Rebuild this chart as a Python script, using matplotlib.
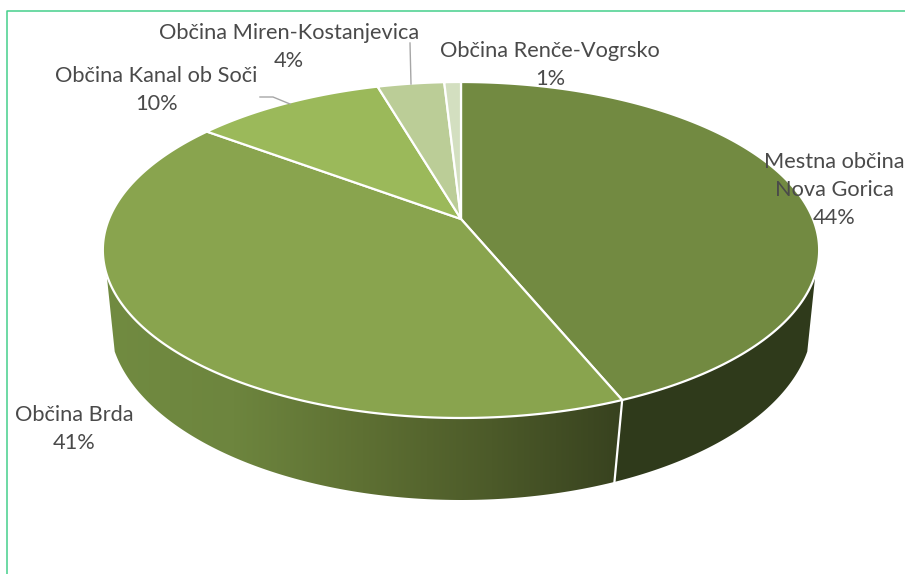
#!/usr/bin/env python3
import numpy as np
import matplotlib
matplotlib.use('Agg')
import matplotlib.pyplot as plt
from matplotlib.patches import Polygon

categories = ['Mestna občina\nNova Gorica', 'Občina Brda', 'Občina Kanal ob Soči',
              'Občina Miren-Kostanjevica', 'Občina Renče-Vogrsko']
shares = [43.8, 41.4, 10.3, 3.6, 0.9]
colors = ['#728a41', '#89a44e', '#9bb95a', '#bbcd97', '#d3dfc0']
label_pos = [(834, 190), (74, 429), (156, 90), (289, 47), (550, 65)]

WALL_START, WALL_END = 108.7, 251.3  # clockwise degrees from 12 o'clock


def top_disc(deg, r=1.0):
  """Perspective projection of the upper pie face to pixels."""
  a = np.radians(deg)
  x, y = r * np.sin(a), r * np.cos(a)
  d = 1 + 0.1845 * y
  return 461 + 352 * x / d, (219 - 121.87 * y) / d


def bottom_disc(deg):
  a = np.radians(deg)
  x, y = np.sin(a), np.cos(a)
  d = 1 + 0.15 * y
  return 461 + 348 * x / d, (292 - 133 * y) / d


def wall_outline(start, end):
  t = np.linspace(start, end, 150)
  tx, ty = top_disc(t)
  bx, by = bottom_disc(t[::-1])
  return np.column_stack([np.r_[tx, bx], np.r_[ty, by]])


fig = plt.figure(figsize=(9.05, 5.74), dpi=100)
ax = fig.add_axes([0, 0, 1, 1])
ax.set_xlim(0, 905)
ax.set_ylim(574, 0)
ax.axis('off')

edges = np.r_[0, np.cumsum(shares)] * 360 / sum(shares)

# side walls, only the two big slices are seen from the front
wall_cut = edges[1]
ax.add_patch(Polygon(wall_outline(WALL_START, wall_cut), closed=True,
  facecolor='#2f3a1b', edgecolor='none', zorder=2))
cmap = matplotlib.colors.LinearSegmentedColormap.from_list(
  'wall', ['#718b41', '#6d853e', '#5e7033', '#4c5a29', '#38421f'])
grad = ax.imshow(np.linspace(0, 1, 256).reshape(1, -1), cmap=cmap, aspect='auto',
  extent=(105, 620, 510, 250), zorder=2)
clip = Polygon(wall_outline(wall_cut, WALL_END), closed=True, transform=ax.transData,
  facecolor='none', edgecolor='none')
ax.add_patch(clip)
grad.set_clip_path(clip)
ax.set_xlim(0, 905)
ax.set_ylim(574, 0)

# seam on the wall
sx = [top_disc(wall_cut)[0], bottom_disc(wall_cut)[0]]
sy = [top_disc(wall_cut)[1], bottom_disc(wall_cut)[1]]
ax.plot(sx, sy, color='white', lw=1.6, zorder=3)

# top face
for start, end, color in zip(edges[:-1], edges[1:], colors):
  t = np.linspace(start, end, 200)
  px, py = top_disc(t)
  pts = np.column_stack([np.r_[461, px], np.r_[219, py]])
  ax.add_patch(Polygon(pts, closed=True, facecolor=color, edgecolor='white',
    lw=1.6, joinstyle='round', zorder=4))

# leader lines
ax.plot([410, 411], [43, 84], color='#a6a6a6', lw=1, zorder=5)
ax.plot([260, 273, 290], [97, 97, 104], color='#a6a6a6', lw=1, zorder=5)

for name, share, (lx, ly) in zip(categories, shares, label_pos):
  ax.text(lx, ly, '{}\n{:.0f}%'.format(name, share), ha='center', va='center',
    family='Lato', fontsize=15.7, color='#4a4a4a', linespacing=1.53, zorder=6)

# chart frame, only top and left are on the crop
ax.plot([6.5, 6.5, 905], [574, 10.5, 10.5], color='#45cf8c', lw=1.1, zorder=1)

fig.savefig('out.png', dpi=100)
plt.close(fig)
